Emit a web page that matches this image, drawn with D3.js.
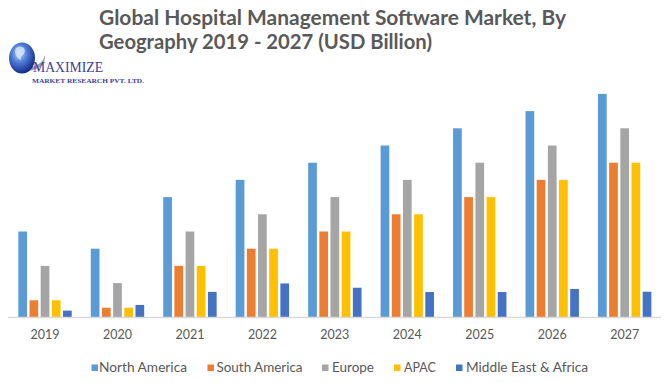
<!DOCTYPE html>
<html>
<head>
<meta charset="utf-8">
<script src="https://cdn.jsdelivr.net/npm/d3@7/dist/d3.min.js"></script>
<style>
  html, body { margin: 0; padding: 0; background: #fff; }
  svg { display: block; }
</style>
</head>
<body>
<svg id="chart" width="664" height="383"></svg>
<script>
// ---- Data ----
const years = ["2019", "2020", "2021", "2022", "2023", "2024", "2025", "2026", "2027"];
const seriesNames = ["North America", "South America", "Europe", "APAC", "Middle East & Africa"];
const northAmerica = [5, 4, 7, 8, 9, 10, 11, 12, 13];
const southAmerica = [1, 0.57, 3, 4, 5, 6, 7, 8, 9];
const europe = [3, 2, 5, 6, 7, 8, 9, 10, 11];
const apac = [1, 0.57, 3, 4, 5, 6, 7, 8, 9];
const middleEastAfrica = [0.4, 0.73, 1.49, 1.98, 1.73, 1.48, 1.48, 1.66, 1.5];
const titleLines = ["Global Hospital Management Software Market, By", "Geography 2019 - 2027 (USD Billion)"];

// ---- Styles / layout ----
const colors = ["#5B9BD5", "#ED7D31", "#A5A5A5", "#FFC000", "#4472C4"];
const seriesValues = [northAmerica, southAmerica, europe, apac, middleEastAfrica];
const table = years.map((y, i) => ({ year: y, values: seriesValues.map(s => s[i]) }));

const svg = d3.select("#chart");
const baseY = 317.5;

const x0 = d3.scaleBand().domain(years).range([8.8, 660.9]).paddingInner(0.263).paddingOuter(0.1315);
const x1 = d3.scaleBand().domain(d3.range(seriesNames.length)).range([0, x0.bandwidth()]).paddingInner(0.22).paddingOuter(0);
const y = d3.scaleLinear().domain([0, 14]).range([baseY, baseY - 14 * 17.2]);

// ---- Title ----
const titleFont = "Lato, 'Open Sans', sans-serif";
svg.append("text").attr("x", 99).attr("y", 25)
  .attr("font-family", titleFont).attr("font-weight", "bold").attr("font-size", 20)
  .attr("fill", "#595959").attr("textLength", 467).attr("lengthAdjust", "spacingAndGlyphs")
  .text(titleLines[0]);
svg.append("text").attr("x", 99).attr("y", 48.5)
  .attr("font-family", titleFont).attr("font-weight", "bold").attr("font-size", 20)
  .attr("fill", "#595959").attr("textLength", 333).attr("lengthAdjust", "spacingAndGlyphs")
  .text(titleLines[1]);

// ---- Logo ----
const defs = svg.append("defs");
const grad = defs.append("radialGradient").attr("id", "globe").attr("cx", "40%").attr("cy", "35%").attr("r", "65%");
grad.append("stop").attr("offset", "0%").attr("stop-color", "#B9D3F5");
grad.append("stop").attr("offset", "45%").attr("stop-color", "#4F7FD8");
grad.append("stop").attr("offset", "100%").attr("stop-color", "#152C8C");
const logo = svg.append("g");
logo.append("path").attr("d", "M28,71 Q46,69 45,55 Q43,65 30,67 Z").attr("fill", "#9A9AA8");
logo.append("ellipse").attr("cx", 22).attr("cy", 58).attr("rx", 13).attr("ry", 15.5).attr("fill", "url(#globe)");
logo.append("path").attr("d", "M16,48 q4,-3 8,0 q2,4 -1,7 q-3,2 -2,5 q-4,-1 -5,-5 q-2,-4 0,-7 Z").attr("fill", "#DCE8FA").attr("opacity", 0.8);
logo.append("text").attr("x", 33).attr("y", 72)
  .attr("font-family", "'Liberation Serif', 'DejaVu Serif', serif").attr("font-size", 15)
  .attr("fill", "#3B3F99").attr("textLength", 70).attr("lengthAdjust", "spacingAndGlyphs")
  .text("MAXIMIZE");
logo.append("text").attr("x", 32).attr("y", 82.5)
  .attr("font-family", "'Liberation Serif', 'DejaVu Serif', serif").attr("font-weight", "bold").attr("font-size", 7)
  .attr("fill", "#3B3F99").attr("textLength", 112).attr("lengthAdjust", "spacingAndGlyphs")
  .text("MARKET RESEARCH PVT. LTD.");

// ---- Bars ----
const groups = svg.append("g").selectAll("g").data(table).join("g")
  .attr("transform", d => `translate(${x0(d.year)},0)`);
groups.selectAll("rect").data(d => d.values.map((v, i) => ({ i, v }))).join("rect")
  .attr("x", d => x1(d.i))
  .attr("width", x1.bandwidth())
  .attr("y", d => y(d.v))
  .attr("height", d => baseY - y(d.v))
  .attr("fill", d => colors[d.i]);

// ---- X axis ----
const xAxis = d3.axisBottom(x0).tickSize(0).tickPadding(0);
const axisG = svg.append("g").attr("transform", `translate(0,${baseY})`).call(xAxis);
axisG.select(".domain").attr("stroke", "#D9D9D9").attr("stroke-width", 1.5).attr("d", "M8,0H661");
axisG.selectAll(".tick text")
  .attr("dy", null).attr("y", 21.5)
  .attr("font-family", "Lato, 'Open Sans', sans-serif").attr("font-size", 12.5)
  .attr("fill", "#595959");

// ---- Legend ----
const legendSquareX = [91.5, 207.5, 322, 394, 456];
const legendTextX = [99, 216.5, 332, 404, 466];
const legendTextW = [88, 86, 42, 32, 122];
const legend = svg.append("g");
seriesNames.forEach((name, i) => {
  legend.append("rect").attr("x", legendSquareX[i]).attr("y", 364.5).attr("width", 6.5).attr("height", 6.5).attr("fill", colors[i]);
  legend.append("text").attr("x", legendTextX[i]).attr("y", 372)
    .attr("font-family", "Lato, 'Open Sans', sans-serif").attr("font-size", 12.5)
    .attr("fill", "#595959").attr("textLength", legendTextW[i]).attr("lengthAdjust", "spacingAndGlyphs")
    .text(name);
});
</script>
</body>
</html>
